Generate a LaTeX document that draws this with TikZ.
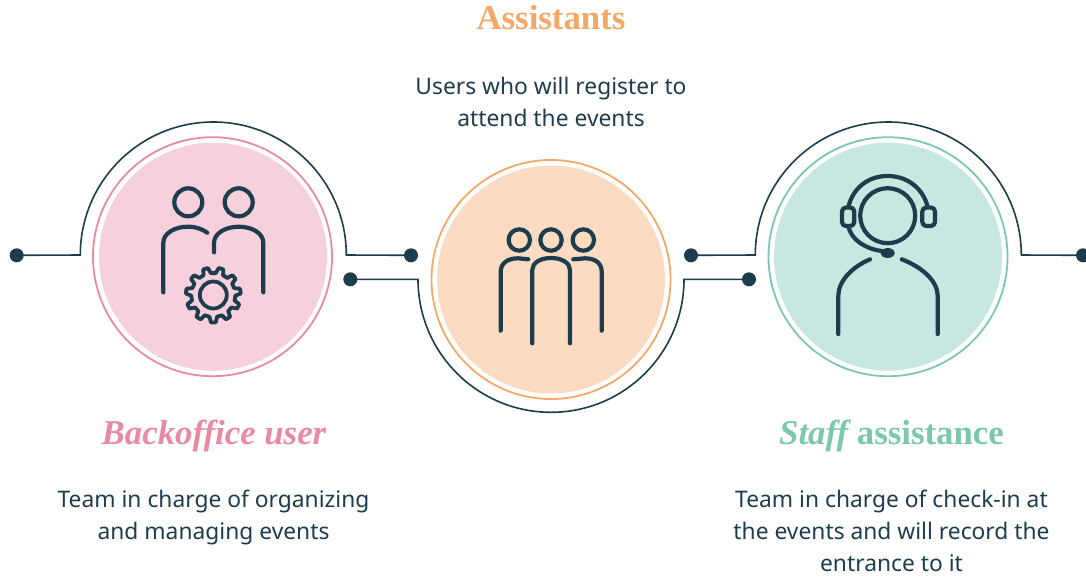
\documentclass[tikz,border=0pt]{standalone}
\usepackage{fontspec}
\setmainfont{Noto Sans}
\newfontfamily\headfont{Liberation Serif}
\definecolor{ink}{HTML}{1D3D4D}
\definecolor{pinkring}{HTML}{E98AA3}
\definecolor{pinkfill}{HTML}{F6D0DC}
\definecolor{orangering}{HTML}{F4A868}
\definecolor{orangefill}{HTML}{FBDCC3}
\definecolor{tealring}{HTML}{7CC7AE}
\definecolor{tealfill}{HTML}{C8E7E0}
\tikzset{
  disc/.style={circle,inner sep=0pt,minimum size=228pt,draw=none},
  ring/.style={circle,inner sep=0pt,minimum size=239pt,line width=1.8pt,fill=none},
  dotnode/.style={circle,inner sep=0pt,minimum size=14pt,fill=ink},
  wire/.style={draw=ink,line width=1.6pt},
  icon/.style={draw=ink,line width=4.2pt,line cap=round,line join=round},
  body/.style={text=ink,align=center,inner sep=0pt,font=\fontsize{22.8}{32}\selectfont},
  heading/.style={font=\headfont\bfseries\fontsize{34.8}{40}\selectfont},
}
\begin{document}
\begin{tikzpicture}[x=1pt,y=-1pt]
\useasboundingbox (0,0) rectangle (1086,576);
% discs and rings
\node[disc,fill=pinkfill] (pinkdisc) at (213,256.7) {};
\node[ring,draw=pinkring] (pinkring) at (212.5,256.7) {};
\node[disc,fill=orangefill] (orangedisc) at (551,279.5) {};
\node[ring,draw=orangering] (orangering) at (551,279.5) {};
\node[disc,fill=tealfill] (tealdisc) at (888,256.7) {};
\node[ring,draw=tealring] (tealring) at (888,256.7) {};
% connector dots
\node[dotnode] (d1) at (16.7,255.3) {};
\node[dotnode] (d2) at (411,255.3) {};
\node[dotnode] (d3) at (350.3,279.3) {};
\node[dotnode] (d4) at (749,279.3) {};
\node[dotnode] (d5) at (691,255.3) {};
\node[dotnode] (d6) at (1083,255.3) {};
% connectors
\draw[wire] (d1.center) -- (80.3,255) arc[start angle=180,end angle=360,radius=133] -- (d2.center);
\draw[wire] (d3.center) -- (418,279.3) arc[start angle=180,end angle=0,radius=133] -- (d4.center);
\draw[wire] (d5.center) -- (755.3,255) arc[start angle=180,end angle=360,radius=133] -- (d6.center);
% backoffice icon
\draw[icon] (188.3,202.3) circle[radius=14];
\draw[icon] (238.7,202.3) circle[radius=14];
\draw[icon] (163.3,292.3) -- (163.3,243) .. controls (163.3,233) and (175,226.7) .. (188,226.7) .. controls (196,226.7) and (202,229) .. (207.3,232.7);
\draw[icon] (214,252.3) -- (214,243) .. controls (214,233) and (226,226.7) .. (238.7,226.7) .. controls (252,226.7) and (263.3,233) .. (263.3,243) -- (263.3,292.3);
\begin{scope}[shift={(213.3,295)}]
\draw[icon,line width=3.8pt] (0,0) circle[radius=13.5];
\draw[icon,line width=3.8pt] ({90-10}:22)
  \foreach \t in {0,...,10} {
   -- ({90+\t*360/11-10}:22)
   -- ({90+\t*360/11-5}:27.5) -- ({90+\t*360/11+5}:27.5) -- ({90+\t*360/11+10}:22)
  } -- cycle;
\end{scope}
% assistants icon
\draw[icon] (519.3,240) circle[radius=10.7];
\draw[icon] (551,240) circle[radius=10.7];
\draw[icon] (583.3,240) circle[radius=10.7];
\draw[icon] (500.7,330.7) -- (500.7,271.7) .. controls (500.7,263) and (508,258.3) .. (518,258.3) -- (528.3,259.3);
\draw[icon] (532.3,343.3) -- (532.3,270) .. controls (532.3,263) and (540,258) .. (551,258) .. controls (562,258) and (570,263) .. (570,270) -- (570,343.3);
\draw[icon] (601.7,330.7) -- (601.7,271.7) .. controls (601.7,263) and (595,258.3) .. (585,258.3) -- (573.3,259.3);
% staff icon
\draw[icon] (887.7,215.7) circle[radius=27.5];
\draw[icon] (848.3,207) .. controls (853,188) and (868,176) .. (887.7,176) .. controls (907,176) and (923,188) .. (927.7,207);
\draw[icon,rounded corners=4pt] (842,207.5) rectangle (854.3,226);
\draw[icon,rounded corners=4pt] (922.3,207.5) rectangle (935,226);
\draw[icon] (848.3,226) .. controls (851,240) and (866,249) .. (881.7,251);
\fill[ink] (887.7,253) ellipse[x radius=7,y radius=5];
\draw[icon] (838.3,334) -- (838.3,296) .. controls (838.3,281) and (852,267) .. (870,259.3);
\draw[icon] (937.7,334) -- (937.7,296) .. controls (937.7,281) and (922,267) .. (901.7,259.3);
% headings
\node[heading,text=orangering,anchor=base] (h2) at (551,29) {Assistants};
\node[heading,text=pinkring,anchor=base] (h1) at (214,444) {\itshape Backoffice user};
\node[heading,text=tealring,anchor=base] (h3) at (891.5,444) {{\itshape Staff} assistance};
% body
\node[body] (b2) at (551,102) {Users who will register to\\attend the events};
\node[body] (b1) at (213.5,518) {Team in charge of organizing\\and managing events};
\node[body] (b3) at (891.5,531) {Team in charge of check-in at\\the events and will record the\\entrance to it};
\end{tikzpicture}
\end{document}
